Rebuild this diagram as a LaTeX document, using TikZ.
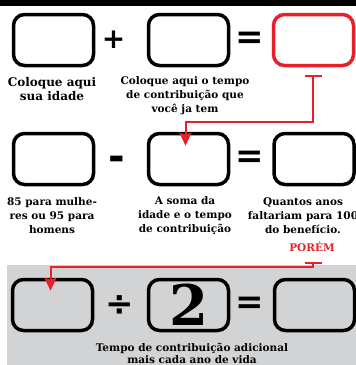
\documentclass[tikz,border=0pt]{standalone}
\usepackage{fontspec}
\setmainfont{DejaVu Serif}
\newfontfamily\opfont{DejaVu Sans}
\usetikzlibrary{arrows.meta}
\definecolor{linkred}{RGB}{232,32,42}
\definecolor{bggray}{RGB}{210,211,213}
\begin{document}
\begin{tikzpicture}[
        x=1pt, y=-1pt,
        line width=2pt,
        slot/.style={draw, rounded corners=11pt, line width=3.5pt,
          minimum width=80pt, minimum height=51pt, inner sep=0pt},
        redslot/.style={slot, draw=linkred},
        op/.style={font=\opfont\bfseries\fontsize{34}{34}\selectfont, inner sep=0pt},
        note/.style={font=\bfseries\fontsize{10.5}{14}\selectfont, align=center, inner sep=0pt},
        link/.style={draw=linkred, line width=2pt,
          {Bar[width=17pt]}-{Stealth[length=13pt,width=12pt,inset=2pt]}}
    ]
    \useasboundingbox (0,0) rectangle (356,365);
    % Title bar (cut off)
    \fill[black] (0,0) rectangle (356,6);
    % Gray band behind the last row
    \fill[bggray] (7,265) rectangle (356,365);

    % First row: age + contribution = sum
    \node[slot] (r1a) at (53.5,40) {};
    \node[op, font=\opfont\bfseries\fontsize{28}{28}\selectfont] (r1p) at (113.5,40) {+};
    \node[slot] (r1b) at (188.5,40) {};
    \node[op] (r1e) at (250,40) {=};
    \node[redslot] (r1c) at (313.5,40) {};
    \node[note, font=\bfseries\fontsize{12}{14}\selectfont] (n1a) at (52,89) {Coloque aqui\\sua idade};
    \node[note] (n1b) at (185,96) {Coloque aqui o tempo\\de contribuição que\\você ja tem};

    % Second row: 85/95 - sum = years left
    \node[slot] (r2a) at (53.5,159) {};
    \node[op, font=\opfont\bfseries\fontsize{40}{40}\selectfont] (r2m) at (117,163) {-};
    \node[slot] (r2b) at (188.5,159) {};
    \node[op] (r2e) at (250,159) {=};
    \node[slot] (r2c) at (314,159) {};
    \node[note] (n2a) at (52,216) {85 para mulhe-\\res ou 95 para\\homens};
    \node[note] (n2b) at (185,216) {A soma da\\idade e o tempo\\de contribuição};
    \node[note] (n2c) at (303,216) {Quantos anos\\faltariam para 100\\do benefício.};
    \node[note, text=linkred] (porem) at (312,247) {PORÉM};

    % Third row: years left / 2 = extra time
    \node[slot] (r3a) at (52.5,305) {};
    \node[op] (r3d) at (120,306) {÷};
    \node[slot] (r3b) at (188.5,305) {\fontsize{56}{56}\selectfont\bfseries 2};
    \node[op] (r3e) at (250,305) {=};
    \node[slot] (r3c) at (314.5,305) {};
    \node[note, font=\bfseries\fontsize{10.5}{12}\selectfont] (n3) at (192,353)
      {Tempo de contribuição adicional\\mais cada ano de vida};

    % Red links
    \coordinate (t1) at (313,75);
    \coordinate (t2) at (313,262);
    \draw[link] (t1) -- ++(0,47) -| ([xshift=-3pt,yshift=-14pt]r2b.north);
    \draw[link] (t2) -- ++(0,5) -| ([xshift=-2pt,yshift=-13pt]r3a.north);
\end{tikzpicture}
\end{document}
